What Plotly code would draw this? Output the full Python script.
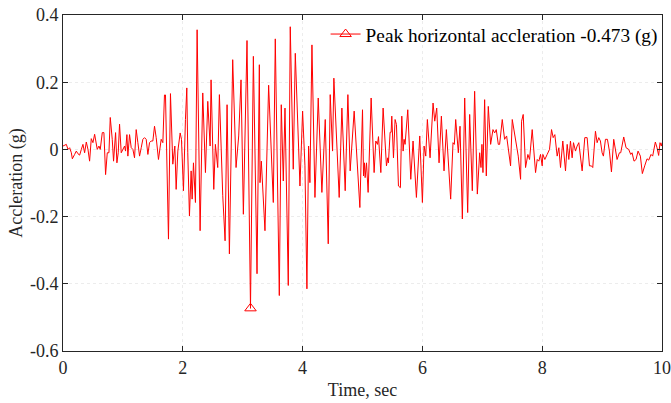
import plotly.graph_objects as go

# Ground motion record (time in s, acceleration in g)
t_0 = [0.00, 0.056, 0.083, 0.111, 0.139, 0.156, 0.194, 0.222, 0.25, 0.278, 0.306, 0.333, 0.361, 0.389, 0.417, 0.444, 0.472, 0.5, 0.528, 0.556, 0.572, 0.6, 0.622, 0.656, 0.683, 0.711, 0.739, 0.767, 0.789, 0.822, 0.844, 0.878, 0.9, 0.922, 0.944, 0.972]
a_0 = [0.01, 0.015, 0.0, 0.005, -0.01, -0.028, -0.015, -0.005, -0.013, -0.017, 0.0, 0.015, -0.01, 0.022, 0.0, -0.035, 0.032, 0.02, 0.045, 0.02, 0.0, 0.01, 0.0, 0.05, 0.05, -0.075, -0.01, -0.01, 0.095, 0.03, -0.035, 0.05, -0.04, -0.01, 0.075, -0.01]

t_1 = [1.0, 1.028, 1.044, 1.067, 1.083, 1.111, 1.139, 1.167, 1.194, 1.222, 1.25, 1.278, 1.306, 1.333, 1.361, 1.389, 1.417, 1.444, 1.472, 1.5, 1.528, 1.556, 1.594, 1.639, 1.667, 1.694, 1.711, 1.761, 1.794, 1.833, 1.867, 1.889, 1.917, 1.956, 1.978]
a_1 = [0.0, 0.01, -0.005, 0.044, -0.02, 0.044, 0.005, 0.0, -0.025, 0.059, 0.02, -0.02, 0.005, 0.03, 0.035, 0.03, -0.015, 0.02, 0.025, 0.025, 0.069, 0.035, -0.03, 0.03, 0.02, 0.162, 0.162, -0.267, 0.166, -0.044, 0.01, -0.119, -0.005, 0.049, 0.03]

t_2 = [2.011, 2.044, 2.067, 2.083, 2.111, 2.139, 2.156, 2.178, 2.211, 2.239, 2.289, 2.333, 2.378, 2.417, 2.456, 2.472, 2.517, 2.544, 2.583, 2.611, 2.667, 2.706, 2.739, 2.778, 2.833, 2.889, 2.933, 2.972]
a_2 = [-0.123, 0.089, 0.183, -0.01, -0.198, -0.064, -0.148, -0.04, -0.158, 0.356, -0.242, 0.168, -0.069, 0.143, 0.01, 0.207, -0.119, 0.015, -0.054, 0.163, -0.138, -0.272, 0.133, -0.311, 0.267, -0.054, 0.04, 0.207]

t_3 = [3.011, 3.072, 3.13, 3.178, 3.239, 3.278, 3.289, 3.311, 3.372, 3.433, 3.511, 3.544, 3.611, 3.644, 3.678, 3.706, 3.761, 3.794, 3.844, 3.878, 3.956]
a_3 = [-0.193, 0.324, -0.473, 0.277, -0.37, 0.252, -0.099, -0.035, -0.242, 0.191, -0.158, 0.329, -0.435, 0.133, -0.094, 0.123, -0.405, 0.365, -0.059, 0.286, -0.109]

t_4 = [4.0, 4.039, 4.072, 4.1, 4.122, 4.156, 4.206, 4.261, 4.322, 4.378, 4.428, 4.461, 4.5, 4.522, 4.611, 4.656, 4.711, 4.756, 4.794, 4.861, 4.956]
a_4 = [0.114, -0.049, -0.415, 0.01, -0.099, 0.311, -0.143, 0.153, -0.128, 0.089, -0.281, 0.163, -0.005, 0.212, -0.143, 0.123, -0.123, 0.163, -0.064, 0.114, -0.173]

t_5 = [5.0, 5.017, 5.033, 5.044, 5.067, 5.094, 5.144, 5.194, 5.222, 5.25, 5.267, 5.306, 5.344, 5.4, 5.422, 5.433, 5.461, 5.478, 5.489, 5.517, 5.544, 5.567, 5.6, 5.633, 5.656, 5.678, 5.694, 5.711, 5.756, 5.806, 5.844, 5.9, 5.956]
a_5 = [0.118, -0.079, -0.04, -0.084, -0.04, -0.128, 0.153, -0.069, 0.025, 0.015, 0.038, -0.069, 0.123, -0.049, -0.025, -0.04, 0.051, 0.051, 0.099, -0.025, 0.089, 0.074, -0.109, -0.114, 0.099, -0.005, 0.03, 0.015, 0.118, -0.089, 0.025, -0.143, 0.04]

t_6 = [6.0, 6.028, 6.056, 6.083, 6.128, 6.178, 6.206, 6.239, 6.278, 6.317, 6.361, 6.4, 6.472, 6.511, 6.533, 6.556, 6.6, 6.628, 6.667, 6.706, 6.756, 6.789, 6.833, 6.872, 6.917, 6.956, 6.978, 6.994]
a_6 = [-0.158, 0.01, -0.02, 0.089, -0.025, 0.138, 0.084, 0.123, -0.04, 0.099, -0.064, 0.059, -0.148, 0.02, 0.015, 0.089, -0.01, 0.069, -0.207, 0.153, -0.188, 0.104, -0.123, 0.173, -0.133, -0.01, -0.054, 0.015]

t_7 = [7.011, 7.039, 7.067, 7.1, 7.139, 7.178, 7.206, 7.233, 7.267, 7.289, 7.333, 7.372, 7.406, 7.428, 7.472, 7.5, 7.544, 7.583, 7.6, 7.639, 7.656, 7.683, 7.722, 7.761, 7.789, 7.833, 7.889, 7.917, 7.944, 7.972]
a_7 = [-0.069, 0.148, -0.079, 0.128, 0.015, 0.059, 0.049, 0.059, 0.015, 0.015, 0.089, 0.03, 0.04, 0.015, -0.049, 0.089, 0.035, -0.005, -0.02, -0.089, 0.084, 0.104, -0.054, -0.015, -0.03, 0.059, -0.069, -0.03, -0.035, -0.015]

t_8 = [8.0, 8.011, 8.044, 8.083, 8.122, 8.156, 8.183, 8.211, 8.25, 8.278, 8.306, 8.344, 8.389, 8.417, 8.444, 8.472, 8.5, 8.522, 8.556, 8.583, 8.611, 8.667, 8.711, 8.75, 8.789, 8.822, 8.844, 8.889, 8.917, 8.944, 8.972]
a_8 = [-0.049, -0.015, -0.03, -0.015, 0.0, 0.059, 0.035, 0.044, -0.02, 0.005, -0.054, 0.025, -0.064, 0.015, -0.03, 0.025, -0.025, 0.02, -0.005, 0.01, 0.02, -0.064, 0.035, 0.035, -0.049, -0.049, -0.054, 0.054, 0.02, 0.035, 0.025]

t_9 = [9.0, 9.022, 9.056, 9.089, 9.122, 9.156, 9.194, 9.25, 9.289, 9.311, 9.361, 9.4, 9.444, 9.478, 9.5, 9.533, 9.567, 9.6, 9.639, 9.672, 9.711, 9.75, 9.778, 9.817, 9.844, 9.889, 9.917, 9.944, 9.967, 9.989, 10.0]
a_9 = [-0.01, -0.02, 0.03, 0.03, -0.005, -0.067, 0.03, -0.03, -0.01, -0.01, 0.037, 0.005, 0.0, -0.015, -0.01, -0.035, -0.03, -0.005, -0.02, -0.072, -0.049, -0.028, -0.032, -0.015, -0.02, 0.022, 0.005, -0.018, 0.02, 0.01, 0.02]

peak_t = [3.13]
peak_a = [-0.473]
legend_label = "Peak horizontal accleration -0.473 (g)"

x_ticks = [0, 2, 4, 6, 8, 10]
y_ticks = [-0.6, -0.4, -0.2, 0, 0.2, 0.4]
y_tick_text = ["-0.6", "-0.4", "-0.2", "0", "0.2", "0.4"]

time = t_0 + t_1 + t_2 + t_3 + t_4 + t_5 + t_6 + t_7 + t_8 + t_9
acc = a_0 + a_1 + a_2 + a_3 + a_4 + a_5 + a_6 + a_7 + a_8 + a_9

RED = "#ff0000"
AX = "#262626"
FONT = "Liberation Serif"

fig = go.Figure()
fig.add_trace(go.Scatter(x=time, y=acc, mode="lines",
                         line=dict(color=RED, width=1), showlegend=False,
                         hoverinfo="skip"))
fig.add_trace(go.Scatter(x=peak_t, y=peak_a, mode="lines+markers",
                         name=legend_label,
                         line=dict(color=RED, width=1),
                         marker=dict(symbol="triangle-up-open", size=10,
                                     color=RED, line=dict(width=1, color=RED))))

axis_common = dict(showline=True, linecolor=AX, linewidth=1, mirror="ticks",
                   ticks="inside", ticklen=5, tickcolor=AX, tickwidth=1,
                   showgrid=True, gridcolor="#ececec", griddash="dot",
                   gridwidth=1, zeroline=False, automargin=False,
                   tickfont=dict(family=FONT, size=18, color=AX))

fig.update_xaxes(range=[0, 10], tickvals=x_ticks,
                 title=dict(text="Time, sec", font=dict(family=FONT, size=18, color=AX),
                            standoff=6),
                 **axis_common)
fig.update_yaxes(range=[-0.6, 0.4], tickvals=y_ticks, ticktext=y_tick_text,
                 title=dict(text="Accleration (g)", font=dict(family=FONT, size=18, color=AX),
                            standoff=2),
                 **axis_common)

fig.update_layout(
    width=671, height=403,
    margin=dict(l=63, r=9, t=15, b=52, autoexpand=False),
    paper_bgcolor="white", plot_bgcolor="white",
    font=dict(family=FONT, size=18, color=AX),
    legend=dict(x=1.001, y=1.0, xanchor="right", yanchor="top",
                bgcolor="rgba(255,255,255,0)", borderwidth=0,
                font=dict(family=FONT, size=19.3, color="black"),
                itemwidth=30, tracegroupgap=0),
)

fig.write_html("out.html")
